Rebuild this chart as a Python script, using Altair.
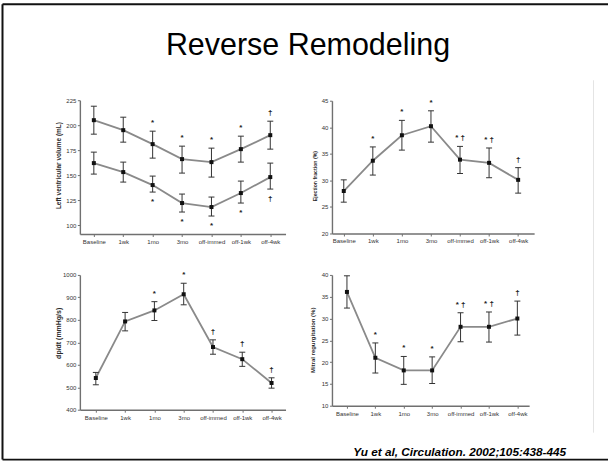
import altair as alt
import pandas as pd

FONT = "Liberation Sans"

categories = ["Baseline", "1wk", "1mo", "3mo", "off-immed", "off-1wk", "off-4wk"]

# Left ventricular volume (mL): end-diastolic (upper curve) and end-systolic (lower curve)
edv_mean = [205, 195, 181, 166, 163, 176, 190]
edv_low = [191, 183, 167, 152, 148, 163, 176]
edv_high = [219, 208, 194, 179, 177, 189, 204]
edv_marks = ["", "", "*", "*", "*", "*", "†"]

esv_mean = [162, 153, 140, 122, 118, 132, 148]
esv_low = [151, 143, 133, 113, 109, 122, 136]
esv_high = [173, 163, 149, 131, 128, 144, 162]
esv_marks = ["", "", "*", "*", "*", "*", "†"]

# Ejection fraction (%)
ef_mean = [28.0, 33.7, 38.5, 40.2, 33.9, 33.3, 30.1]
ef_low = [25.9, 31.0, 35.7, 37.2, 31.3, 30.5, 27.6]
ef_high = [30.1, 36.3, 41.3, 43.1, 36.4, 36.1, 32.4]
ef_marks = ["", "*", "*", "*", "* †", "* †", "†"]

# dp/dt (mmHg/s)
dpdt_mean = [541, 793, 842, 914, 679, 625, 519]
dpdt_low = [511, 751, 797, 867, 647, 593, 496]
dpdt_high = [566, 833, 881, 963, 711, 656, 542]
dpdt_marks = ["", "", "*", "*", "†", "†", "†"]

# Mitral regurgitation (%)
mr_mean = [36.1, 21.0, 18.1, 18.1, 28.1, 28.1, 30.0]
mr_low = [32.4, 17.5, 14.9, 15.1, 24.7, 24.6, 26.2]
mr_high = [39.8, 24.4, 21.3, 21.2, 31.3, 31.5, 34.0]
mr_marks = ["", "*", "*", "*", "* †", "* †", "†"]


def series_frame(name, mean, low, high, marks):
    return pd.DataFrame({
        "series": name,
        "idx": list(range(len(categories))),
        "cat": categories,
        "mean": mean,
        "low": low,
        "high": high,
        "mark": marks,
    })


def panel(frames, above, below, y_title, y_domain, y_ticks, width, height,
          pad, align, title_size, title_x, title_y):
    data = pd.concat(frames, ignore_index=True)
    x_enc = alt.X(
        "cat:N", sort=categories,
        scale=alt.Scale(type="point", padding=pad, align=align),
        axis=alt.Axis(title=None, labelAngle=0, labelFont=FONT, labelFontSize=6,
                      labelColor="#333333", labelPadding=2, tickSize=2.5,
                      tickColor="#707070", domainColor="#707070", domainWidth=1.4,
                      labelOverlap=False, zindex=1),
    )
    y_scale = alt.Scale(domain=y_domain, nice=False, zero=False)
    y_axis = alt.Axis(title=y_title, values=y_ticks, format="d", grid=False,
                      labelFont=FONT, labelFontSize=6, labelColor="#333333",
                      labelPadding=1.5, tickSize=2.5, tickColor="#707070",
                      domainColor="#707070", domainWidth=1.4, titleFont=FONT,
                      titleFontSize=title_size, titleFontWeight="bold",
                      titleColor="#2a2a2a", titleX=title_x, titleY=title_y,
                      titleBaseline="middle", titleAlign="center", titleAngle=270,
                      zindex=1)

    def y(field):
        return alt.Y(f"{field}:Q", scale=y_scale, axis=y_axis)

    base = alt.Chart(data)
    line = base.mark_line(color="#8a8a8a", strokeWidth=1.8).encode(
        x=x_enc, y=y("mean"), detail="series:N", order=alt.Order("idx:Q"))
    stems = base.mark_rule(color="#333333", strokeWidth=1).encode(
        x=x_enc, y=y("low"), y2="high:Q")
    caps_hi = base.mark_tick(orient="horizontal", size=6, thickness=1,
                             color="#333333", opacity=1).encode(x=x_enc, y=y("high"))
    caps_lo = base.mark_tick(orient="horizontal", size=6, thickness=1,
                             color="#333333", opacity=1).encode(x=x_enc, y=y("low"))
    dots = base.mark_square(size=16, color="#111111", opacity=1).encode(
        x=x_enc, y=y("mean"))
    layers = [line, stems, caps_hi, caps_lo, dots]
    if above is not None:
        layers.append(alt.Chart(above).transform_filter("datum.mark != ''").mark_text(
            font=FONT, fontSize=8, fontWeight="bold", color="#222222", dy=-8,
            baseline="middle").encode(x=x_enc, y=y("high"), text="mark:N"))
    if below is not None:
        layers.append(alt.Chart(below).transform_filter("datum.mark != ''").mark_text(
            font=FONT, fontSize=8, fontWeight="bold", color="#222222", dy=10,
            baseline="middle").encode(x=x_enc, y=y("low"), text="mark:N"))
    return alt.layer(*layers).properties(width=width, height=height)


edv = series_frame("edv", edv_mean, edv_low, edv_high, edv_marks)
esv = series_frame("esv", esv_mean, esv_low, esv_high, esv_marks)
ef = series_frame("ef", ef_mean, ef_low, ef_high, ef_marks)
dpdt = series_frame("dpdt", dpdt_mean, dpdt_low, dpdt_high, dpdt_marks)
mr = series_frame("mr", mr_mean, mr_low, mr_high, mr_marks)

p1 = panel([edv, esv], edv, esv, "Left ventricular volume (mL)", [91, 225],
           [100, 125, 150, 175, 200, 225], 206, 134, 0.497, 0.478, 6.5, -21, 65)
p2 = panel([ef], ef, None, "Ejection fraction (%)", [20, 45],
           [20, 25, 30, 35, 40, 45], 202.5, 133, 0.478, 0.425, 5.2, -17, 75)
p3 = panel([dpdt], dpdt, None, "dp/dt (mmHg/s)", [400, 1000],
           [400, 500, 600, 700, 800, 900, 1000], 206, 135, 0.511, 0.533, 7, -21, 58)
p4 = panel([mr], mr, None, "Mitral regurgitation (%)", [10, 40],
           [10, 15, 20, 25, 30, 35, 40], 197.5, 131, 0.471, 0.56, 6, -19, 65)

# Slide frame, heading and reference, placed relative to the first panel's origin
PAGE_W, PAGE_H = 609, 461
OX, OY = 80, 100
one = pd.DataFrame({"k": [0]})
background = alt.Chart(one).mark_rect(color="white").encode(
    x=alt.value(-OX), x2=alt.value(PAGE_W - OX),
    y=alt.value(-OY), y2=alt.value(PAGE_H - OY))
frame_top = alt.Chart(one).mark_rule(color="#111111", strokeWidth=2).encode(
    x=alt.value(2.5 - OX), x2=alt.value(PAGE_W - OX), y=alt.value(4 - OY))
frame_left = alt.Chart(one).mark_rule(color="#111111", strokeWidth=2).encode(
    x=alt.value(2.5 - OX), y=alt.value(4 - OY), y2=alt.value(460 - OY))
frame_bottom = alt.Chart(one).mark_rule(color="#111111", strokeWidth=2).encode(
    x=alt.value(2.5 - OX), x2=alt.value(PAGE_W - OX), y=alt.value(460 - OY))
edge = alt.Chart(one).mark_rule(color="#e4e4e4", strokeWidth=1).encode(
    x=alt.value(594.5 - OX), y=alt.value(80 - OY), y2=alt.value(433 - OY))
heading = alt.Chart(one).mark_text(
    text="Reverse Remodeling", font=FONT, fontSize=30.5, color="#000000",
    align="center", baseline="alphabetic").encode(
    x=alt.value(308.5 - OX), y=alt.value(55 - OY))
citation = alt.Chart(one).mark_text(
    text="Yu et al, Circulation. 2002;105:438-445", font=FONT, fontSize=11.8,
    fontStyle="italic", fontWeight="bold", color="#000000",
    align="right", baseline="alphabetic").encode(
    x=alt.value(567 - OX), y=alt.value(456.5 - OY))

p1_full = alt.layer(background, frame_top, frame_left, frame_bottom, edge,
                    heading, citation, p1)

chart = (
    alt.concat(p1_full, p2, p3, p4, columns=2, bounds="flush", center=True,
               spacing={"row": 41, "column": 46.5})
    .properties(padding=0, background="white")
    .configure_view(stroke=None)
)

chart.save("out.html", embed_options={"renderer": "svg", "actions": False})
